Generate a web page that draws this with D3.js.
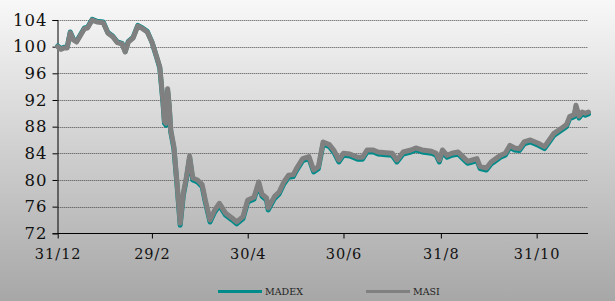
<!DOCTYPE html>
<html><head><meta charset="utf-8">
<script src="https://cdn.jsdelivr.net/npm/d3@7"></script>
<style>html,body{margin:0;padding:0;background:#fff;}svg{display:block;}</style>
</head><body>
<svg id="chart" width="615" height="301"></svg>
<script>
// Day offsets from 31/12 (previous year)
const days = [0,2,4,6,8,10,12,14,17,19,22,25,29,32,35,38,41,43,45,48,51,54,57,60,63,65,67,68,69,70,71,72,74,76,78,80,82,84,86,89,92,94,97,100,103,107,111,114,118,121,125,128,130,133,134,138,141,144,147,150,152,156,160,163,166,169,173,176,179,182,186,191,194,197,201,204,209,213,216,220,225,228,232,238,241,243,245,248,251,255,258,261,264,267,269,273,276,279,282,285,288,291,294,297,301,306,310,313,316,321,324,326,329,330,332,334,336,338];
const masi = [100.0,99.6,99.8,99.8,102.1,101.0,100.7,101.5,102.7,102.8,104.0,103.7,103.6,102.0,101.5,100.6,100.4,99.2,100.7,101.3,103.1,102.7,102.2,100.7,98.5,97.0,92.0,88.8,88.5,93.7,91.3,87.5,85.0,79.5,73.5,78.0,80.5,83.6,80.3,80.0,79.3,77.0,74.0,75.5,76.5,75.0,74.3,73.7,74.5,77.0,77.4,79.7,77.9,77.3,75.8,77.5,78.2,79.7,80.7,80.8,81.7,83.2,83.5,81.5,82.0,85.7,85.3,84.4,83.0,84.0,83.9,83.4,83.4,84.5,84.5,84.2,84.1,84.0,83.0,84.2,84.5,84.8,84.5,84.3,84.0,83.0,84.5,83.7,84.0,84.2,83.5,82.8,83.0,83.2,82.0,81.8,82.7,83.2,83.7,84.0,85.2,84.8,84.7,85.7,86.0,85.5,85.0,86.0,87.0,87.8,88.3,89.5,89.8,91.2,89.6,90.2,90.0,90.2];
const madex = [100.1,99.7,99.9,99.9,102.2,101.1,100.8,101.6,102.8,102.9,104.1,103.8,103.7,102.1,101.6,100.7,100.5,99.3,100.8,101.4,103.2,102.8,102.3,100.7,98.4,96.8,91.7,88.5,88.2,93.4,91.0,87.2,84.7,79.2,73.2,77.7,80.2,83.3,80.0,79.7,79.0,76.7,73.7,75.2,76.2,74.7,74.0,73.4,74.2,76.7,77.1,79.4,77.6,77.0,75.5,77.2,77.9,79.4,80.4,80.5,81.4,82.9,83.2,81.2,81.7,85.4,85.0,84.1,82.7,83.7,83.6,83.1,83.1,84.2,84.2,83.9,83.8,83.7,82.7,83.9,84.2,84.5,84.2,84.0,83.7,82.7,84.2,83.4,83.7,83.9,83.2,82.5,82.7,82.9,81.7,81.5,82.4,82.9,83.4,83.7,84.9,84.5,84.4,85.4,85.7,85.2,84.7,85.7,86.7,87.5,88.0,89.2,89.5,90.9,89.3,89.9,89.7,89.9];
const xTickDays = [0,60,121,182,244,305];
const xTickLabels = ["31/12","29/2","30/4","30/6","31/8","31/10"];
const yTicks = [72,76,80,84,88,92,96,100,104];
const seriesNames = ["MADEX","MASI"];
const seriesColors = ["#008b8b","#808080"];

const svg = d3.select("#chart");
const W = 615, H = 301;
const defs = svg.append("defs");
const grad = defs.append("linearGradient").attr("id","bg").attr("x1",0).attr("y1",0).attr("x2",0).attr("y2",1);
grad.append("stop").attr("offset","0%").attr("stop-color","#f8f8f8");
grad.append("stop").attr("offset","100%").attr("stop-color","#a7a7a7");
svg.append("rect").attr("width",W).attr("height",H).attr("fill","url(#bg)");

const x = d3.scaleLinear().domain([0,337.7]).range([57.7,588]);
const y = d3.scaleLinear().domain([72,104]).range([233.3,20]);

// grid
svg.append("g").selectAll("line").data(yTicks.filter(v=>v>72)).join("line")
  .attr("x1",x.range()[0]).attr("x2",x.range()[1])
  .attr("y1",d=>Math.round(y(d))+0.5).attr("y2",d=>Math.round(y(d))+0.5)
  .attr("stroke","#4a4a4a").attr("stroke-width",1).attr("stroke-dasharray","1,1");

// y axis
const yAxis = svg.append("g").attr("transform","translate(57.5,0)")
  .call(d3.axisLeft(y).tickValues(yTicks).tickSize(5).tickPadding(5).tickFormat(d3.format("d")));
yAxis.select(".domain").attr("stroke","#000");
yAxis.selectAll(".tick line").attr("stroke","#000");
yAxis.selectAll("text").attr("font-family","DejaVu Serif").attr("font-size",16.5).attr("letter-spacing","1px").attr("fill","#111");

// x axis
const xAxis = svg.append("g").attr("transform","translate(0,233.5)")
  .call(d3.axisBottom(x).tickValues(xTickDays).tickSize(5).tickPadding(10).tickFormat((d,i)=>xTickLabels[i]));
xAxis.select(".domain").attr("stroke","#000").attr("d","M57.7,0H588");
xAxis.selectAll(".tick line").attr("stroke","#000");
xAxis.selectAll("text").attr("font-family","DejaVu Serif").attr("font-size",14.5).attr("letter-spacing","1px").attr("fill","#111");

// lines
const line = d3.line().x((d,i)=>x(days[i])).y(d=>y(d));
[madex, masi].forEach((s,k)=>{
  svg.append("path").attr("d",line(s)).attr("fill","none")
    .attr("stroke",seriesColors[k]).attr("stroke-width",5)
    .attr("stroke-linejoin","round").attr("stroke-linecap","round");
});

// legend
const legX = [218, 366];
seriesNames.forEach((n,k)=>{
  const g = svg.append("g").attr("transform",`translate(${legX[k]},291.5)`);
  g.append("line").attr("x1",0).attr("x2",44).attr("y1",0).attr("y2",0)
    .attr("stroke",seriesColors[k]).attr("stroke-width",3);
  g.append("text").attr("x",47).attr("y",3.5).text(n)
    .attr("font-family","DejaVu Serif").attr("font-size",9.5).attr("fill","#222");
});
</script>
</body></html>
